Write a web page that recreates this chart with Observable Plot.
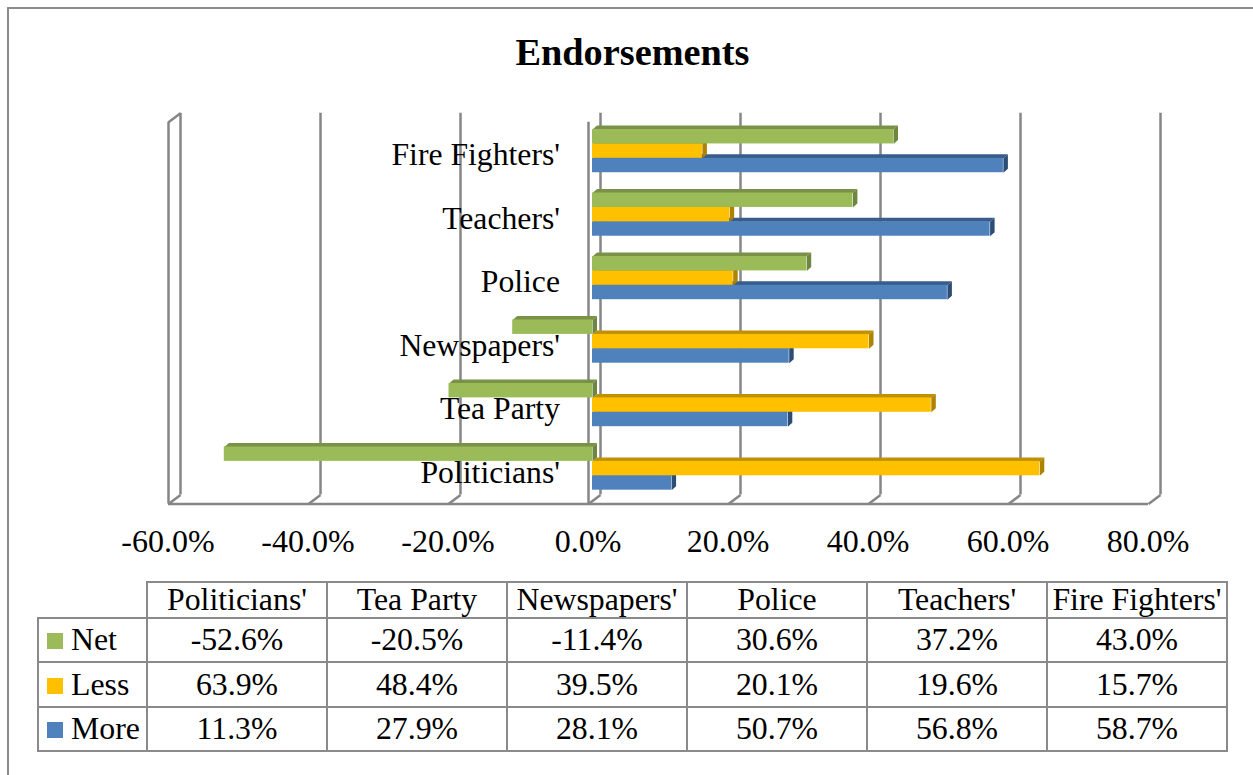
<!DOCTYPE html>
<html>
<head>
<meta charset="utf-8">
<script src="https://cdn.jsdelivr.net/npm/d3@7"></script>
<script src="https://cdn.jsdelivr.net/npm/@observablehq/plot@0.6"></script>
<style>
  html, body { margin: 0; padding: 0; background: #fff; overflow: hidden; width: 1253px; height: 775px; }
  body { position: relative; font-family: "Liberation Serif", "Times New Roman", serif; color: #000; }
  #frame { position: absolute; left: 7px; top: 7px; width: 1260px; height: 780px; border-left: 2px solid #8c8c8c; border-top: 2px solid #8c8c8c; }
  #title { position: absolute; left: 0; width: 1265px; top: 30px; text-align: center; font-weight: bold; font-size: 38.3px; line-height: 44px; }
  #chart { position: absolute; left: 0; top: 0; }
  #chart svg { font-family: "Liberation Serif", "Times New Roman", serif; background: transparent; }
  table { position: absolute; left: 37px; top: 581px; border-collapse: collapse; table-layout: fixed; width: 1189px; font-size: 31.8px; line-height: 32px; }
  td, th { border: 2px solid #8a8a8a; padding: 1px 0; text-align: center; font-weight: normal; white-space: nowrap; overflow: visible; }
  th.blank { border-left: none; border-top: none; }
  td.key { text-align: left; padding-left: 8px; }
  .sw { display: inline-block; width: 16px; height: 16px; margin-right: 8px; vertical-align: 1px; }
</style>
</head>
<body>
<div id="frame"></div>
<div id="chart"></div>
<div id="title">Endorsements</div>
<script>
const categories = ["Politicians'", "Tea Party", "Newspapers'", "Police", "Teachers'", "Fire Fighters'"];
const seriesNames = ["More", "Less", "Net"];
const more = [11.3, 27.9, 28.1, 50.7, 56.8, 58.7];
const less = [63.9, 48.4, 39.5, 20.1, 19.6, 15.7];
const net = [-52.6, -20.5, -11.4, 30.6, 37.2, 43.0];
const xTicks = [-60, -40, -20, 0, 20, 40, 60, 80];
const faceColors = {More: "#4F81BD", Less: "#FFC000", Net: "#9BBB59"};
const topColors = {More: "#385D8A", Less: "#BF9000", Net: "#7A9248"};
const sideColors = {More: "#2C4D75", Less: "#AD8300", Net: "#6E873F"};

// Layout constants: the x scale is 7 px per point, the y scale is 14.4 px per row.
const groupStep = 4.41, rowFloor = -0.96, rowTop = 25.56;
const wallX = 12 / 7, wallY = 9 / 14.4, barDX = 4.5 / 7, barDY = 4 / 14.4;

const values = {More: more, Less: less, Net: net};
const rows = [];
categories.forEach((category, c) => seriesNames.forEach((series, s) => {
  const value = values[series][c];
  rows.push({category, series, value, lo: Math.min(0, value), hi: Math.max(0, value), y1: c * groupStep + s, y2: c * groupStep + s + 1});
}));

function topPoly(d) {
  const id = d.category + d.series + "top";
  return [[d.lo, d.y2], [d.hi, d.y2], [d.hi + barDX, d.y2 + barDY], [d.lo + barDX, d.y2 + barDY]].map(([x, y]) => ({id, x, y}));
}
function sidePoly(d) {
  const id = d.category + d.series + "side";
  return [[d.hi, d.y1], [d.hi + barDX, d.y1 + barDY], [d.hi + barDX, d.y2 + barDY], [d.hi, d.y2]].map(([x, y]) => ({id, x, y}));
}
const depthMarks = seriesNames.flatMap(series => {
  const sel = rows.filter(d => d.series === series);
  return [
    Plot.line(sel.flatMap(topPoly), {x: "x", y: "y", z: "id", fill: topColors[series], stroke: "none", dx: 4}),
    Plot.line(sel.flatMap(sidePoly), {x: "x", y: "y", z: "id", fill: sideColors[series], stroke: "none", dx: 4})
  ];
});

const gridStyle = {stroke: "#868686", strokeWidth: 2.5};
const chart = Plot.plot({
  width: 1253,
  height: 775,
  marginLeft: 168,
  marginRight: 105,
  marginTop: 121.7,
  marginBottom: 271.5,
  x: {domain: [-60, 80]},
  y: {domain: [rowFloor, rowTop], axis: null},
  marks: [
    // back wall gridlines
    Plot.ruleX(xTicks, {x: d => d + wallX, y1: rowFloor + wallY, y2: rowTop + wallY, ...gridStyle}),
    // floor slants
    Plot.link(xTicks, {x1: d => d, x2: d => d + wallX, y1: rowFloor, y2: rowFloor + wallY, ...gridStyle}),
    // floor front edge
    Plot.ruleY([rowFloor], {x1: xTicks[0], x2: xTicks[xTicks.length - 1], ...gridStyle}),
    // left wall front edge, top slant, and the zero axis
    Plot.ruleX([xTicks[0], 0], {y1: rowFloor, y2: rowTop, ...gridStyle}),
    Plot.link([xTicks[0]], {x1: d => d, x2: d => d + wallX, y1: rowTop, y2: rowTop + wallY, ...gridStyle}),
    // 3D depth faces, then front faces
    ...depthMarks,
    Plot.rect(rows, {x1: "lo", x2: "hi", y1: "y1", y2: "y2", fill: d => faceColors[d.series], dx: 4}),
    // category labels
    Plot.text(categories, {
      x: 0, y: (d, i) => i * groupStep + 1.5, text: d => d,
      textAnchor: "end", dx: -28.5, dy: 4, fontSize: 31.7, fill: "#000"
    }),
    Plot.axisX({
      ticks: xTicks, tickSize: 0, tickPadding: 25, dx: -0.5, fontSize: 32, fill: "#000",
      tickFormat: d => d.toFixed(1) + "%", label: null
    })
  ]
});
document.getElementById("chart").appendChild(chart);

// data table below the chart
const table = document.createElement("table");
const colgroup = document.createElement("colgroup");
[109, 180, 180, 180, 180, 180, 180].forEach(w => {
  const col = document.createElement("col");
  col.style.width = w + "px";
  colgroup.appendChild(col);
});
table.appendChild(colgroup);
const head = document.createElement("tr");
head.style.height = "36px";
const blank = document.createElement("th");
blank.className = "blank";
head.appendChild(blank);
categories.forEach(c => {
  const th = document.createElement("th");
  th.textContent = c;
  head.appendChild(th);
});
table.appendChild(head);
[...seriesNames].reverse().forEach(series => {
  const tr = document.createElement("tr");
  tr.style.height = "44.4px";
  const key = document.createElement("td");
  key.className = "key";
  const sw = document.createElement("span");
  sw.className = "sw";
  sw.style.background = faceColors[series];
  key.appendChild(sw);
  key.appendChild(document.createTextNode(series));
  tr.appendChild(key);
  values[series].forEach(v => {
    const td = document.createElement("td");
    td.textContent = v.toFixed(1) + "%";
    tr.appendChild(td);
  });
  table.appendChild(tr);
});
document.body.appendChild(table);
</script>
</body>
</html>
